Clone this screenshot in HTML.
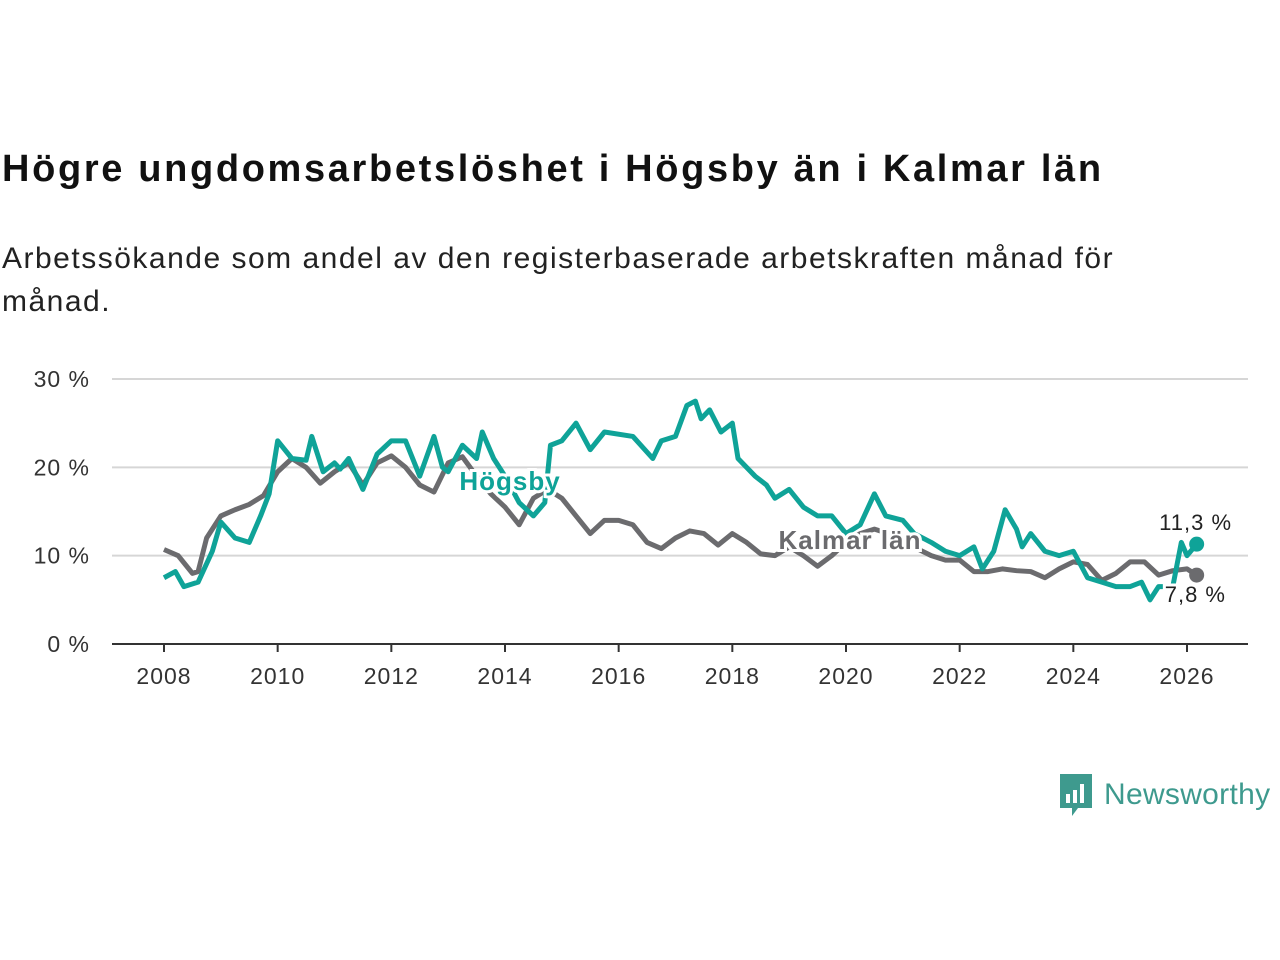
<!DOCTYPE html>
<html><head><meta charset="utf-8"><style>
body{margin:0;width:1280px;height:960px;background:#fff;font-family:"Liberation Sans","DejaVu Sans",sans-serif;overflow:hidden;position:relative}
h1{position:absolute;left:2px;top:148px;margin:0;font-size:38px;letter-spacing:2.65px;font-weight:bold;color:#111;white-space:nowrap}
.sub{position:absolute;left:2px;top:237px;font-size:30px;letter-spacing:1.5px;line-height:43px;color:#222;width:1180px}
svg{position:absolute;left:0;top:0}
</style></head><body>
<h1>Högre ungdomsarbetslöshet i Högsby än i Kalmar län</h1>
<div class="sub">Arbetssökande som andel av den registerbaserade arbetskraften månad för månad.</div>
<svg id="c" width="1280" height="960"></svg>
<div style="position:absolute;left:1058px;top:772px;display:flex;align-items:center;color:#3e9a8e;font-size:30px;letter-spacing:0.3px">
<svg width="36" height="46" viewBox="0 0 36 46" style="position:static"><path d="M2 2h32v34H20l-6 8v-8H2z" fill="#3e9a8e"/><rect x="8" y="22" width="4" height="9" fill="#fff"/><rect x="15" y="18" width="4" height="13" fill="#fff"/><rect x="22" y="12" width="4" height="19" fill="#fff"/></svg>
<span style="margin-left:10px">Newsworthy</span></div>
<script>
const yTicks=[0,10,20,30];
const xTicks=[2008,2010,2012,2014,2016,2018,2020,2022,2024,2026];
const kalmarT=[2008,2008.25,2008.5,2008.6,2008.75,2009,2009.25,2009.5,2009.75,2010,2010.25,2010.5,2010.75,2011,2011.25,2011.5,2011.75,2012,2012.25,2012.5,2012.75,2013,2013.25,2013.5,2013.75,2014,2014.25,2014.5,2014.75,2015,2015.25,2015.5,2015.75,2016,2016.25,2016.5,2016.75,2017,2017.25,2017.5,2017.75,2018,2018.25,2018.5,2018.75,2019,2019.25,2019.5,2019.75,2020,2020.25,2020.5,2020.75,2021,2021.25,2021.5,2021.75,2022,2022.25,2022.5,2022.75,2023,2023.25,2023.5,2023.75,2024,2024.25,2024.5,2024.75,2025,2025.25,2025.5,2025.75,2026,2026.17];
const kalmarV=[10.7,10,8,8.2,12,14.5,15.2,15.8,16.8,19.5,21,20,18.2,19.5,20.5,18,20.5,21.3,20,18,17.2,20.5,21.2,19,17,15.5,13.5,16.5,17.5,16.5,14.5,12.5,14,14,13.5,11.5,10.8,12,12.8,12.5,11.2,12.5,11.5,10.2,10,11,10,8.8,10,11.5,12.5,13,12.5,11.5,10.8,10,9.5,9.5,8.2,8.2,8.5,8.3,8.2,7.5,8.5,9.3,9,7.2,8,9.3,9.3,7.8,8.3,8.5,7.8];
const hogsbyT=[2008,2008.2,2008.35,2008.6,2008.85,2009,2009.25,2009.5,2009.7,2009.85,2010,2010.25,2010.5,2010.6,2010.8,2011,2011.1,2011.25,2011.5,2011.75,2012,2012.25,2012.5,2012.75,2012.9,2013,2013.25,2013.5,2013.6,2013.8,2014,2014.25,2014.5,2014.7,2014.8,2015,2015.25,2015.5,2015.75,2016.25,2016.6,2016.75,2017,2017.2,2017.35,2017.45,2017.6,2017.8,2018,2018.1,2018.4,2018.6,2018.75,2019,2019.25,2019.5,2019.75,2020,2020.25,2020.5,2020.7,2021,2021.2,2021.5,2021.75,2022,2022.25,2022.4,2022.6,2022.8,2023,2023.1,2023.25,2023.5,2023.75,2024,2024.25,2024.5,2024.75,2025,2025.2,2025.35,2025.5,2025.75,2025.9,2026,2026.17];
const hogsbyV=[7.5,8.2,6.5,7,10.5,13.8,12,11.5,14.5,17,23,21,20.8,23.5,19.5,20.5,19.8,21,17.5,21.5,23,23,19,23.5,20,19.5,22.5,21,24,21,19,16,14.5,16,22.5,23,25,22,24,23.5,21,23,23.5,27,27.5,25.5,26.5,24,25,21,19,18,16.5,17.5,15.5,14.5,14.5,12.5,13.5,17,14.5,14,12.5,11.5,10.5,10,11,8.5,10.5,15.2,13,11,12.5,10.5,10,10.5,7.5,7,6.5,6.5,7,5,6.5,6.5,11.5,10,11.3];
const svg=document.getElementById('c');const NS='http://www.w3.org/2000/svg';
const X=t=>164+(t-2008)*(1187-164)/18;const Y=v=>644-v*(644-379)/30;
function el(tag,a,txt){const e=document.createElementNS(NS,tag);for(const k in a)e.setAttribute(k,a[k]);if(txt!=null)e.textContent=txt;svg.appendChild(e);return e;}
yTicks.forEach(v=>{
 if(v>0){const g=el('line',{x1:112,x2:1248,y1:Y(v),y2:Y(v),stroke:'#d6d6d6','stroke-width':2});
 
 }
 const t=el('text',{x:90,y:Y(v)+8,'text-anchor':'end','font-size':23,fill:'#333','letter-spacing':1},v+' %');
 
 
});
const ax=el('line',{x1:112,x2:1248,y1:644,y2:644,stroke:'#333','stroke-width':2});


xTicks.forEach(t=>{
 const tk=el('line',{x1:X(t),x2:X(t),y1:644,y2:652,stroke:'#333','stroke-width':2});
 
 
 const l=el('text',{x:X(t),y:684,'text-anchor':'middle','font-size':23,fill:'#333','letter-spacing':1},t);
 
 
});
function line(T,V,col,name){
 const p=el('polyline',{points:T.map((t,i)=>X(t)+','+Y(V[i])).join(' '),fill:'none',stroke:col,'stroke-width':5,'stroke-linejoin':'round'});
 
 
 const n=T.length-1;
 const d=el('circle',{cx:X(T[n]),cy:Y(V[n]),r:7.5,fill:col});
 
 
}
line(kalmarT,kalmarV,'#6b6b6e','kalmar');
line(hogsbyT,hogsbyV,'#0fa398','hogsby');
function lab(x,y,txt,col,name,anchor,weight,size){
 const t=el('text',{x:x,y:y,'text-anchor':anchor,'font-size':size,'font-weight':weight,fill:col,stroke:'#fff','stroke-width':6,'paint-order':'stroke','letter-spacing':1},txt);
 
 
}
lab(510,490,'Högsby','#0fa398','hogsby-series-label','middle','bold',26);
lab(850,549,'Kalmar län','#6b6b6e','kalmar-series-label','middle','bold',26);
const nh=hogsbyT.length-1, nk=kalmarT.length-1;
lab(1232,Y(hogsbyV[nh])-14,'11,3 %','#222','hogsby-end-value','end','normal',22);
lab(1226,Y(kalmarV[nk])+27,'7,8 %','#222','kalmar-end-value','end','normal',22);
</script>
</body></html>
